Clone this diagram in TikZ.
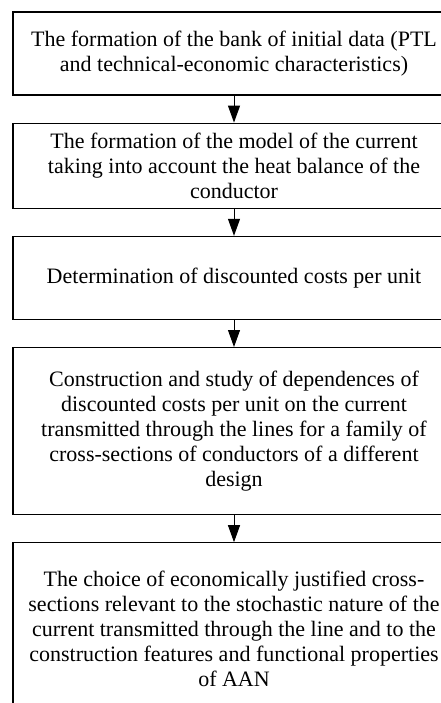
\documentclass[tikz,border=0pt]{standalone}
\usepackage{fontspec}
\setmainfont{Liberation Serif}
\usetikzlibrary{positioning, arrows.meta}

\begin{document}
\begin{tikzpicture} [x = 1pt, y = 1pt, node distance = 27pt,
    block/.style = {draw, line width = 1.2pt, minimum width = 442pt,
      align = center, inner sep = 0pt, font = \fontsize{22}{25}\selectfont}]

        \useasboundingbox (0,0) rectangle (441,-703);

        \node (b1) [block, minimum height = 83pt] at (234,-53.5)
        {The formation of the bank of initial data (PTL\\ and
        technical-economic characteristics)}; \node (b2) [block, minimum
        height = 85pt, below = of b1] {The formation of the model of the
        current\\ taking into account the heat balance of the\\ conductor};
        \node (b3) [block, minimum height = 83pt, below = of b2]
        {Determination of discounted costs per unit}; \node (b4) [block,
        minimum height = 167pt, below = of b3] {Construction and study of
        dependences of\\ discounted costs per unit on the current\\
        transmitted through the lines for a family of\\ cross-sections of
        conductors of a different\\ design}; \node (b5) [block, minimum
        height = 172pt, below = of b4] {The choice of economically justified
        cross-\\ sections relevant to the stochastic nature of the\\ current
        transmitted through the line and to the\\ construction features and
        functional properties\\ of AAN};

        \path [-{Triangle[width = 12pt, length = 17pt]}, line width = 1pt]
            (b1) edge (b2) (b2) edge (b3) (b3) edge (b4) (b4) edge (b5);

    \end{tikzpicture}
\end{document}
